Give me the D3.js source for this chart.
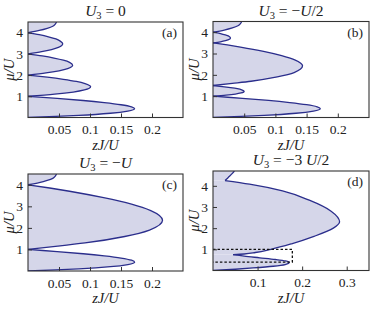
<!DOCTYPE html>
<html>
<head>
<meta charset="utf-8">
<script src="https://cdn.jsdelivr.net/npm/d3@7"></script>
<style>
  body { margin: 0; background: #fff; }
  text { font-family: "Liberation Serif", "DejaVu Serif", serif; fill: #222; }
</style>
</head>
<body>
<svg id="chart" width="374" height="311"></svg>
<script>
// lobe boundaries, each point is [mu/U, zJ/U]
const lobesA = [
  [[0,0],[0.05,0.045],[0.1,0.082],[0.2,0.133],[0.3,0.161],[0.41,0.172],[0.5,0.167],[0.6,0.15],[0.7,0.123],[0.8,0.089],[0.9,0.047],[0.95,0.024],[1,0]],
  [[1,0],[1.1,0.043],[1.2,0.073],[1.3,0.091],[1.45,0.101],[1.6,0.092],[1.7,0.078],[1.8,0.057],[1.9,0.031],[2,0]],
  [[2,0],[2.1,0.029],[2.2,0.05],[2.3,0.064],[2.46,0.072],[2.6,0.067],[2.7,0.057],[2.8,0.042],[2.9,0.023],[3,0]],
  [[3,0],[3.1,0.022],[3.2,0.038],[3.3,0.049],[3.47,0.056],[3.6,0.052],[3.7,0.045],[3.8,0.033],[3.9,0.018],[4,0]],
  [[4,0],[4.1,0.018],[4.2,0.031],[4.3,0.04],[4.4,0.044],[4.5,0.046]]
];
const lobesB = [
  [[0,0],[0.05,0.045],[0.1,0.082],[0.2,0.133],[0.3,0.161],[0.41,0.172],[0.5,0.167],[0.6,0.15],[0.7,0.123],[0.8,0.089],[0.9,0.047],[0.95,0.024],[1,0]],
  [[1,0],[1.05,0.021],[1.1,0.036],[1.15,0.045],[1.22,0.05],[1.3,0.046],[1.35,0.039],[1.4,0.028],[1.45,0.015],[1.5,0]],
  [[1.5,0],[1.6,0.031],[1.7,0.061],[1.9,0.103],[2.1,0.13],[2.42,0.1435],[2.7,0.131],[2.9,0.11],[3.1,0.081],[3.3,0.044],[3.4,0.023],[3.5,0]],
  [[3.5,0],[3.55,0.012],[3.6,0.02],[3.65,0.025],[3.72,0.028],[3.8,0.026],[3.85,0.022],[3.9,0.016],[3.95,0.009],[4,0]],
  [[4,0],[4.1,0.018],[4.2,0.031],[4.3,0.04],[4.4,0.044],[4.5,0.046]]
];
const lobesC = [
  [[0,0],[0.05,0.045],[0.1,0.082],[0.2,0.133],[0.3,0.161],[0.41,0.172],[0.5,0.167],[0.6,0.15],[0.7,0.123],[0.8,0.089],[0.9,0.047],[0.95,0.024],[1,0]],
  [[1,0],[1.15,0.048],[1.3,0.092],[1.6,0.156],[1.9,0.196],[2.35,0.217],[2.8,0.198],[3.1,0.167],[3.4,0.122],[3.7,0.067],[3.85,0.035],[4,0]],
  [[4,0],[4.1,0.018],[4.2,0.031],[4.3,0.04],[4.4,0.044],[4.5,0.046]]
];
const lobesD = [
  [[0,0],[0.06,0.05],[0.12,0.09],[0.2,0.135],[0.28,0.162],[0.375,0.171],[0.45,0.163],[0.52,0.14],[0.6,0.105],[0.68,0.07],[0.75,0.045]],
  [[0.75,0.045],[0.78,0.07],[0.85,0.095],[1,0.13],[1.27,0.178],[1.6,0.225],[2,0.27],[2.3,0.284],[2.8,0.265],[3.32,0.216],[3.76,0.156],[4.08,0.082],[4.25,0.027]],
  [[4.25,0.027],[4.35,0.032],[4.45,0.037],[4.6,0.044],[4.7,0.048]]
];
// dashed box in panel (d): [zJ max, mu min, mu max]
const boxD = [0.178, 0.4, 1.0];

const yTicks = [1, 2, 3, 4];
const xTicksABC = [0.05, 0.1, 0.15, 0.2];
const xTicksD = [0.1, 0.2, 0.3];

const panels = [
  {lobes: lobesA, rhs: [" = 0"], label: "(a)", left: 28, top: 22, w: 155, h: 95.5, xMax: 0.25, yMax: 4.5, xTicks: xTicksABC},
  {lobes: lobesB, rhs: [" = \u2212", "U", "/2"], label: "(b)", left: 213, top: 21.5, w: 156, h: 96, xMax: 0.25, yMax: 4.5, xTicks: xTicksABC},
  {lobes: lobesC, rhs: [" = \u2212", "U"], label: "(c)", left: 28, top: 174, w: 155, h: 97, xMax: 0.25, yMax: 4.5, xTicks: xTicksABC},
  {lobes: lobesD, rhs: [" = \u22123 ", "U", "/2"], label: "(d)", left: 213, top: 171, w: 156, h: 99.5, xMax: 0.35, yMax: 4.7, xTicks: xTicksD, box: boxD}
];

const svg = d3.select("#chart");
const fillCol = "#d5d6e9", lineCol = "#2b2e8c";

panels.forEach((p, i) => {
  const x = d3.scaleLinear().domain([0, p.xMax]).range([p.left, p.left + p.w]);
  const y = d3.scaleLinear().domain([0, p.yMax]).range([p.top + p.h, p.top]);
  const g = svg.append("g");

  g.append("clipPath").attr("id", "clip" + i)
    .append("rect").attr("x", p.left).attr("y", p.top).attr("width", p.w).attr("height", p.h);

  const plot = g.append("g").attr("clip-path", "url(#clip" + i + ")");

  const area = d3.area()
    .curve(d3.curveMonotoneY)
    .y(d => y(d[0]))
    .x0(x(0))
    .x1(d => x(d[1]));
  const line = d3.line()
    .curve(d3.curveMonotoneY)
    .y(d => y(d[0]))
    .x(d => x(d[1]));

  plot.selectAll(".lobe").data(p.lobes).enter().append("path")
    .attr("class", "lobe")
    .attr("fill", fillCol)
    .attr("stroke", "none")
    .attr("d", area);
  plot.selectAll(".edge").data(p.lobes).enter().append("path")
    .attr("class", "edge")
    .attr("fill", "none")
    .attr("stroke", lineCol)
    .attr("stroke-width", 1.3)
    .attr("d", line);

  if (p.box) {
    const b = p.box;
    plot.append("path")
      .attr("fill", "none")
      .attr("stroke", "#111")
      .attr("stroke-width", 1.3)
      .attr("stroke-dasharray", "2.5,2")
      .attr("d", "M" + x(0) + "," + y(b[2]) + "H" + x(b[0]) + "V" + y(b[1]) + "H" + x(0));
  }

  // frame
  g.append("rect")
    .attr("x", p.left).attr("y", p.top).attr("width", p.w).attr("height", p.h)
    .attr("fill", "none").attr("stroke", "#333").attr("stroke-width", 1.1);

  // inward ticks
  const xa = g.append("g").attr("transform", "translate(0," + (p.top + p.h) + ")")
    .call(d3.axisBottom(x).tickValues(p.xTicks).tickSize(-4).tickPadding(7)
      .tickFormat(d3.format("~g")));
  const ya = g.append("g").attr("transform", "translate(" + p.left + ",0)")
    .call(d3.axisLeft(y).tickValues(yTicks).tickSize(-4).tickPadding(5)
      .tickFormat(d3.format("d")));
  [xa, ya].forEach(a => {
    a.select(".domain").remove();
    a.selectAll("line").attr("stroke", "#333");
    a.selectAll("text").attr("font-size", 13.5).style("font-family", "'Liberation Serif', serif").attr("fill", "#222");
  });

  // title
  const cx = p.left + p.w / 2;
  const t = g.append("text").attr("x", cx).attr("y", p.top - 6)
    .attr("text-anchor", "middle").attr("font-size", 15.5);
  t.append("tspan").attr("font-style", "italic").text("U");
  t.append("tspan").attr("dy", 3).attr("font-size", 10.5).text("3");
  p.rhs.forEach((s, k) => {
    const ts = t.append("tspan").text(s);
    if (k === 0) ts.attr("dy", -3);
    if (s === "U") ts.attr("font-style", "italic");
  });

  // panel label
  g.append("text").attr("x", p.left + p.w - 6).attr("y", p.top + 15)
    .attr("text-anchor", "end").attr("font-size", 13.5).text(p.label);

  // axis labels
  g.append("text").attr("x", cx).attr("y", p.top + p.h + 32)
    .attr("text-anchor", "middle").attr("font-size", 14.5).attr("font-style", "italic")
    .text("zJ/U");
  g.append("text")
    .attr("transform", "translate(" + (p.left - 14) + "," + (p.top + p.h / 2) + ") rotate(-90)")
    .attr("text-anchor", "middle").attr("font-size", 14.5).attr("font-style", "italic")
    .text("\u03bc/U");
});
</script>
</body>
</html>
